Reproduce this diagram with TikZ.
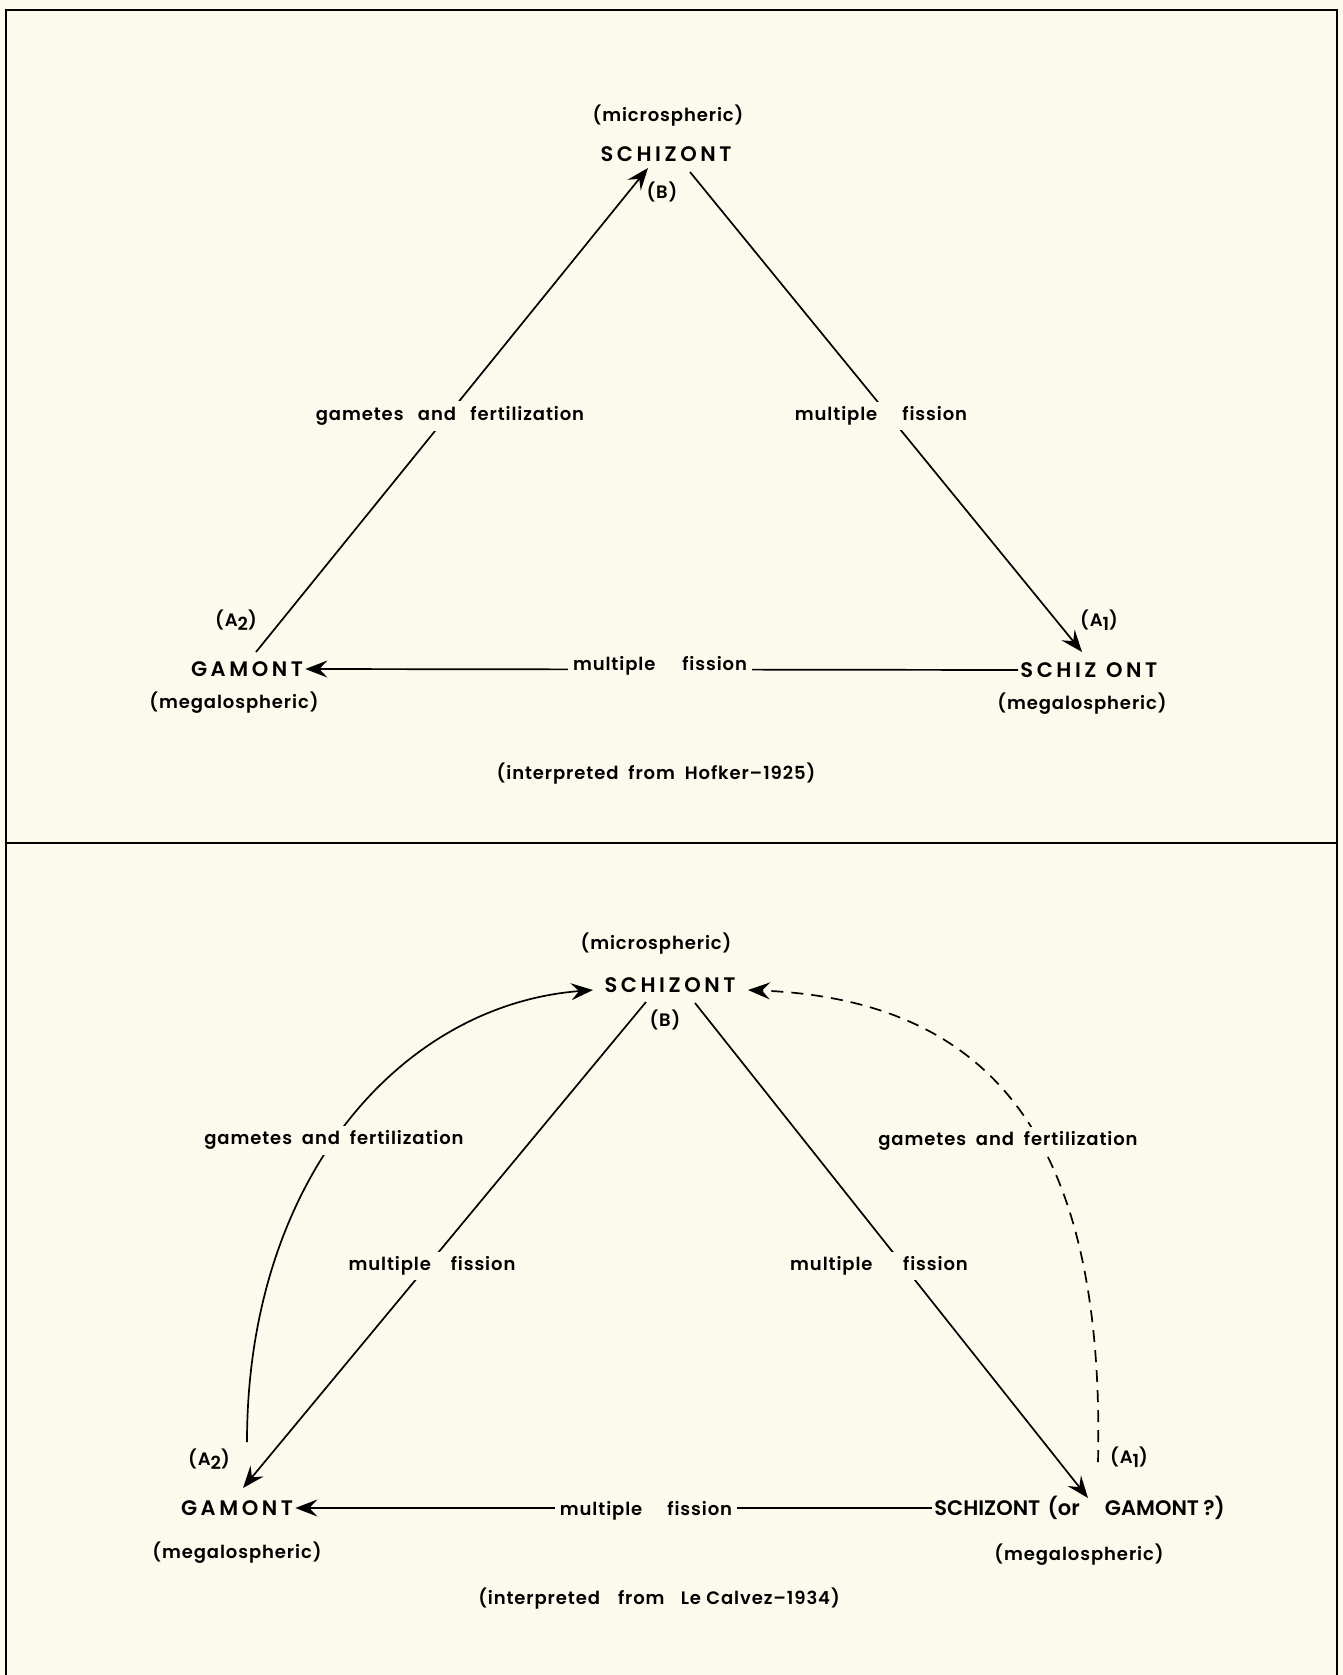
\documentclass[tikz,border=0pt]{standalone}
\usepackage{fontspec}
\setmainfont{Poppins}[UprightFont={* SemiBold}, BoldFont={* Bold}]
\usetikzlibrary{arrows.meta}
\definecolor{paper}{RGB}{252,250,236}
\newcommand{\lsp}{\hspace{0.17em}}
\begin{document}
\begin{tikzpicture}[x=0.5pt,y=-0.5pt,
  txt/.style={inner sep=1pt, font={\fontsize{9}{11}\selectfont\addfontfeatures{LetterSpace=5}}},
  captxt/.style={inner sep=1pt, font={\fontsize{10.5}{12}\selectfont}},
  lbl/.style={txt, fill=paper, inner sep=2.5pt},
  conn/.style={line width=0.85pt},
  arr/.style={conn, -{Stealth[length=11pt,width=8.5pt,inset=4pt]}},
  dsh/.style={dash pattern=on 6pt off 4pt},
]
\fill[paper] (0,0) rectangle (1343,1675);
\useasboundingbox (0,0) rectangle (1343,1675);
% frame
\draw[line width=1.3pt] (6,1675) -- (6,10) -- (1337,10) -- (1337,1675);
\draw[line width=1.1pt] (6,843) -- (1337,843);

% ---------- top panel ----------
\node[txt] (micro1) at (668,116) {(microspheric)};
\node[captxt] (schiz1) at (666,154) {S\lsp C\lsp H\lsp I\lsp Z\lsp O\lsp N\lsp T};
\node[txt] (B1) at (662,192) {(B)};
\node[txt] (A2a) at (236,620) {(A\raisebox{-0.45ex}{2})};
\node[captxt] (gam1) at (247,669) {G\lsp A\lsp M\lsp O\lsp N\lsp T};
\node[txt] (mega1L) at (234,703) {(megalospheric)};
\node[txt] (A1a) at (1099,620) {(A\raisebox{-0.45ex}{\small 1})};
\node[captxt, anchor=west] (schiz1R) at (1018,670) {S\lsp C\lsp H\lsp I\lsp Z\hspace{0.45em}O\lsp N\lsp T};
\node[txt] (mega1R) at (1082,704) {(megalospheric)};
\node[txt] (interp1) at (656,774) {(interpreted\hspace{0.55em}from\hspace{0.55em}Hofker--1925)};

\coordinate (t1a) at (256,652);
\coordinate (t1b) at (648,168);
\coordinate (t2a) at (690,172);
\coordinate (t2b) at (1082,652);
\draw[arr] (t1a) -- (t1b);
\draw[arr] (t2a) -- (t2b);
\draw[arr] (schiz1R.west) -- (gam1.east);

\node[lbl] (gf1) at (450,416) {gametes\hspace{0.8em}and\hspace{0.8em}fertilization};
\node[lbl] (mf1R) at (881,416) {multiple\hspace{1.4em}fission};
\node[lbl] (mf1B) at (660,666) {multiple\hspace{1.5em}fission};

% ---------- bottom panel ----------
\node[txt] (micro2) at (656,944) {(microspheric)};
\node[captxt] (schiz2) at (670,985) {S\lsp C\lsp H\lsp I\lsp Z\lsp O\lsp N\lsp T};
\node[txt] (B2) at (665,1020) {(B)};
\node[txt] (A2b) at (209,1459) {(A\raisebox{-0.45ex}{2})};
\node[captxt] (gam2) at (237,1508) {G\lsp A\lsp M\lsp O\lsp N\lsp T};
\node[txt] (mega2L) at (237,1553) {(megalospheric)};
\node[txt] (A1b) at (1129,1457) {(A\raisebox{-0.45ex}{\small 1})};
\node[captxt, anchor=west] (schiz2R) at (932,1508) {SCHIZONT\hspace{0.35em}(or\hspace{1.2em}GAMONT\hspace{0.2em}?)};
\node[txt] (mega2R) at (1079,1555) {(megalospheric)};
\node[txt] (interp2) at (659,1599) {(interpreted\hspace{1em}from\hspace{0.9em}Le\hspace{0.3em}Calvez--1934)};

\coordinate (l1a) at (646,1002);
\coordinate (l1b) at (243,1488);
\coordinate (r1a) at (695,1003);
\coordinate (r1b) at (1088,1498);
\coordinate (la) at (247,1442);
\coordinate (lb) at (593,990);
\coordinate (ra) at (1098,1462);
\coordinate (rb) at (748,990);
\draw[arr] (l1a) -- (l1b);
\draw[arr] (r1a) -- (r1b);
\draw[arr] (la) .. controls (247,1180) and (400,1005) .. (lb);
\draw[arr, dsh] (ra) .. controls (1105,1150) and (1000,1000) .. (rb);
\draw[arr] (schiz2R.west) -- (gam2.east);

\node[lbl] (gf2L) at (334,1140) {gametes\hspace{0.55em}and\hspace{0.55em}fertilization};
\node[lbl] (gf2R) at (1008,1141) {gametes\hspace{0.55em}and\hspace{0.55em}fertilization};
\node[lbl] (mf2L) at (432,1266) {multiple\hspace{1.1em}fission};
\node[lbl] (mf2R) at (879,1266) {multiple\hspace{1.7em}fission};
\node[lbl] (mf2B) at (646,1511) {multiple\hspace{1.4em}fission};
\end{tikzpicture}
\end{document}
